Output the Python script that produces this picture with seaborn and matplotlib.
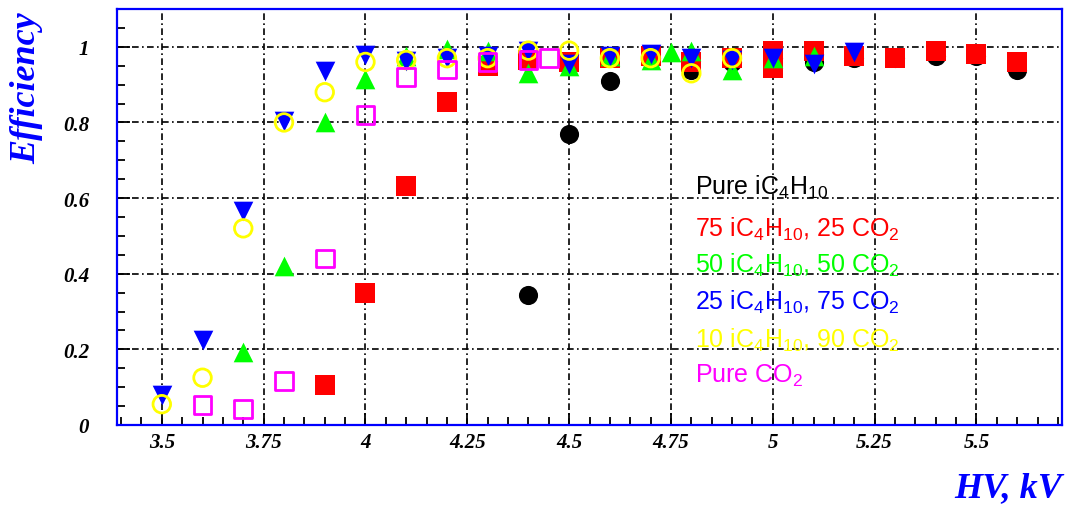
import matplotlib
matplotlib.use("Agg")
import matplotlib.pyplot as plt
import seaborn as sns
from matplotlib.ticker import FixedLocator, MultipleLocator

# HV scan points (kV) and measured efficiency for every gas mixture
hv_pure_ic4h10 = [4.4, 4.5, 4.6, 4.7, 4.8, 4.9, 5.0, 5.1, 5.2, 5.3, 5.4, 5.5, 5.6]
eff_pure_ic4h10 = [0.345, 0.77, 0.91, 0.97, 0.94, 0.96, 0.97, 0.96, 0.97, 0.97,
                   0.975, 0.975, 0.94]

hv_75_25 = [3.9, 4.0, 4.1, 4.2, 4.3, 4.4, 4.5, 4.6, 4.7, 4.8, 4.9, 5.0, 5.0,
            5.1, 5.2, 5.3, 5.4, 5.5, 5.6]
eff_75_25 = [0.105, 0.35, 0.633, 0.853, 0.948, 0.965, 0.96, 0.97, 0.975, 0.96,
             0.97, 0.99, 0.945, 0.988, 0.977, 0.97, 0.99, 0.98, 0.96]

hv_50_50 = [3.7, 3.8, 3.9, 4.0, 4.1, 4.2, 4.3, 4.4, 4.5, 4.6, 4.7, 4.75, 4.8,
            4.9, 5.0, 5.1]
eff_50_50 = [0.193, 0.42, 0.80, 0.915, 0.975, 0.995, 0.99, 0.93, 0.95, 0.975,
             0.965, 0.985, 0.99, 0.94, 0.97, 0.975]

hv_25_75 = [3.5, 3.6, 3.7, 3.8, 3.9, 4.0, 4.1, 4.2, 4.3, 4.4, 4.5, 4.6, 4.7,
            4.8, 4.9, 5.0, 5.1, 5.2]
eff_25_75 = [0.08, 0.225, 0.565, 0.805, 0.935, 0.978, 0.962, 0.97, 0.975, 0.99,
             0.955, 0.975, 0.98, 0.97, 0.965, 0.97, 0.955, 0.985]

hv_10_90 = [3.5, 3.6, 3.7, 3.8, 3.9, 4.0, 4.1, 4.2, 4.3, 4.4, 4.5, 4.6, 4.7,
            4.8, 4.9]
eff_10_90 = [0.055, 0.125, 0.52, 0.80, 0.88, 0.96, 0.965, 0.97, 0.97, 0.99,
             0.99, 0.97, 0.97, 0.93, 0.97]

hv_pure_co2 = [3.6, 3.7, 3.8, 3.9, 4.0, 4.1, 4.2, 4.3, 4.4, 4.45]
eff_pure_co2 = [0.053, 0.042, 0.117, 0.44, 0.82, 0.92, 0.94, 0.96, 0.965, 0.97]

labels = ["Pure iC$_4$H$_{10}$",
          "75 iC$_4$H$_{10}$, 25 CO$_2$",
          "50 iC$_4$H$_{10}$, 50 CO$_2$",
          "25 iC$_4$H$_{10}$, 75 CO$_2$",
          "10 iC$_4$H$_{10}$, 90 CO$_2$",
          "Pure CO$_2$"]

hv_ticks = [3.5, 3.75, 4.0, 4.25, 4.5, 4.75, 5.0, 5.25, 5.5]
hv_tick_labels = ["3.5", "3.75", "4", "4.25", "4.5", "4.75", "5", "5.25", "5.5"]
eff_ticks = [0.0, 0.2, 0.4, 0.6, 0.8, 1.0]
eff_tick_labels = ["0", "0.2", "0.4", "0.6", "0.8", "1"]

sns.set_style("ticks")
plt.rcParams["font.family"] = ["Liberation Sans", "DejaVu Sans"]
plt.rcParams["mathtext.fontset"] = "custom"
plt.rcParams["mathtext.rm"] = "Liberation Sans"
plt.rcParams["mathtext.default"] = "regular"

# (x, y, marker, colour, filled, size)
series = [
    (hv_pure_ic4h10, eff_pure_ic4h10, "o", "black", True, 190),
    (hv_75_25, eff_75_25, "s", "#ff0000", True, 200),
    (hv_50_50, eff_50_50, "^", "#00ff00", True, 200),
    (hv_25_75, eff_25_75, "v", "#0000ff", True, 200),
    (hv_10_90, eff_10_90, "o", "#ffff00", False, 160),
    (hv_pure_co2, eff_pure_co2, "s", "#ff00ff", False, 160),
]

fig = plt.figure(figsize=(10.66, 5.06), dpi=100)
ax = fig.add_axes([117 / 1066, 80 / 506, 945 / 1066, 416 / 506])

for hv, eff, marker, color, filled, size in series:
    if filled:
        sns.scatterplot(x=hv, y=eff, marker=marker, s=size, color=color,
                        edgecolor=color, linewidth=0, ax=ax, zorder=3)
    else:
        sns.scatterplot(x=hv, y=eff, marker=marker, s=size, facecolor="none",
                        edgecolor=color, linewidth=2, ax=ax, zorder=3)

ax.set_xlim(3.39, 5.71)
ax.set_ylim(0, 1.1)
ax.xaxis.set_major_locator(FixedLocator(hv_ticks))
ax.xaxis.set_minor_locator(MultipleLocator(0.05))
ax.yaxis.set_major_locator(FixedLocator(eff_ticks))
ax.yaxis.set_minor_locator(MultipleLocator(0.05))
ax.set_xticklabels(hv_tick_labels)
ax.set_yticklabels(eff_tick_labels)

ax.tick_params(which="both", direction="in", bottom=True, left=True,
               top=False, right=False, color="black", width=1.3)
ax.tick_params(which="major", length=9)
ax.tick_params(which="minor", length=6)
ax.tick_params(axis="x", pad=5)
ax.tick_params(axis="y", pad=20)
for lbl in ax.get_xticklabels() + ax.get_yticklabels():
    lbl.set_family("Liberation Serif")
    lbl.set_weight("bold")
    lbl.set_style("italic")
    lbl.set_size(15)
    lbl.set_color("black")

ax.grid(True, which="major", color="black", linestyle=(0, (4, 2, 1, 2)),
        linewidth=1.2)
ax.set_axisbelow(True)

for spine in ax.spines.values():
    spine.set_visible(True)
    spine.set_color("#0000ff")
    spine.set_linewidth(1.6)

ax.set_xlabel("")
ax.set_ylabel("")
ax.text(-0.095, 0.995, "Efficiency", transform=ax.transAxes, rotation=90,
        ha="center", va="top", color="#0000ff", fontsize=26,
        family="Liberation Serif", weight="bold", style="italic")
ax.text(1.0, -0.15, "HV, kV", transform=ax.transAxes, ha="right",
        va="center", color="#0000ff", fontsize=26,
        family="Liberation Serif", weight="bold", style="italic")

# coloured text legend
legend_y = [0.5745, 0.4736, 0.387, 0.298, 0.2067, 0.120]
for (hv, eff, marker, color, filled, size), text, ty in zip(series, labels, legend_y):
    ax.text(0.612, ty, text, transform=ax.transAxes, ha="left", va="center",
            color=color, fontsize=18, zorder=4)

fig.savefig("out.png", dpi=100)
